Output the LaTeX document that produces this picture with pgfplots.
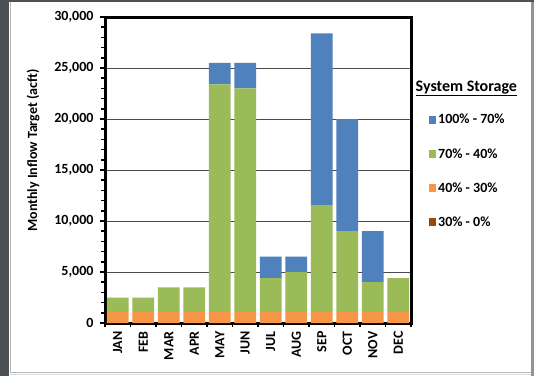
\documentclass[border=0pt]{standalone}
\usepackage{pgfplots}
\pgfplotsset{compat=1.18}
\usepackage{fontspec}
\setmainfont{Carlito}

\definecolor{srBlue}{HTML}{4F81BD}
\definecolor{srGreen}{HTML}{9BBB59}
\definecolor{srOrange}{HTML}{F79646}
\definecolor{srBrown}{HTML}{984807}
\definecolor{frameDark}{HTML}{4C5156}
\definecolor{gridDark}{HTML}{4A4A4A}

\newcommand\lblfont{\bfseries\fontsize{14}{16}\selectfont}

% Monthly inflow target per storage band (acft), stacked
\pgfplotstableread{
x  band30to0 band40to30 band70to40 band100to70
0  0 1100  1400     0
1  0 1100  1400     0
2  0 1100  2400     0
3  0 1100  2400     0
4  0 1100 22300  2100
5  0 1100 21900  2500
6  0 1100  3300  2100
7  0 1100  3900  1500
8  0 1100 10400 16900
9  0 1100  7900 11000
10 0 1100  2900  5000
11 0 1100  3300     0
}\inflowtable

\begin{document}
\begin{tikzpicture}
\useasboundingbox (0pt,0pt) rectangle (534pt,-376pt);
% window surround
\fill[frameDark] (0pt,0pt) rectangle (534pt,-376pt);
\fill[white] (9pt,-2pt) rectangle (531pt,-376pt);
\draw[black!28, line width=1pt] (10pt,-2pt) -- (10pt,-372pt) -- (531pt,-372pt);
\fill[black!42] (531pt,-2pt) rectangle (534pt,-376pt);
\draw[black!15, line width=0.6pt] (10pt,-374.5pt) -- (531pt,-374.5pt);

\begin{axis}[
  at={(105pt,-323pt)}, anchor=south west,
  scale only axis, width=306pt, height=306pt,
  ybar stacked, bar width=0.85,
  xmin=-0.5, xmax=11.5, ymin=0, ymax=30000,
  xtick={0,...,11},
  xticklabels={JAN,FEB,MAR,APR,MAY,JUN,JUL,AUG,SEP,OCT,NOV,DEC},
  minor xtick={-0.5,0.5,...,11.5},
  ytick={0,5000,...,30000}, minor y tick num=4,
  tick pos=left, tick align=outside,
  major tick length=5pt, minor tick length=4pt,
  tick style={black, line width=1.6pt},
  major x tick style={draw=none},
  axis line style={black, line width=3pt},
  ymajorgrids, major grid style={gridDark, line width=0.9pt},
  scaled y ticks=false,
  /pgf/number format/.cd, fixed, 1000 sep={,}, assume math mode=true,
  /pgfplots/.cd,
  xticklabel style={rotate=90, anchor=east, font=\lblfont},
  yticklabel style={font=\lblfont, xshift=-3pt},
  ylabel={Monthly Inflow Target (acft)},
  every axis y label/.style={at={(rel axis cs:-0.2353,0.5637)}, rotate=90,
    anchor=center, font=\lblfont},
  reverse legend,
  legend cell align=left,
  legend style={draw=none, fill=none, at={(rel axis cs:1.057,0.4967)}, anchor=west,
    font=\lblfont, row sep=19pt, inner sep=0pt},
  every axis plot/.append style={draw=none,
    legend image code/.code={\fill[##1] (0pt,-3.75pt) rectangle (7.5pt,3.75pt);}},
]
\addplot[fill=srBrown] table[x=x, y=band30to0] {\inflowtable};
\addplot[fill=srOrange] table[x=x, y=band40to30] {\inflowtable};
\addplot[fill=srGreen] table[x=x, y=band70to40] {\inflowtable};
\addplot[fill=srBlue] table[x=x, y=band100to70] {\inflowtable};
\legend{30\% - 0\%, 40\% - 30\%, 70\% - 40\%, 100\% - 70\%}
\end{axis}

\node[anchor=base west, inner sep=0pt, font=\bfseries\fontsize{16}{18}\selectfont]
  at (415.5pt,-91pt) {\underline{System Storage}};
\end{tikzpicture}
\end{document}
